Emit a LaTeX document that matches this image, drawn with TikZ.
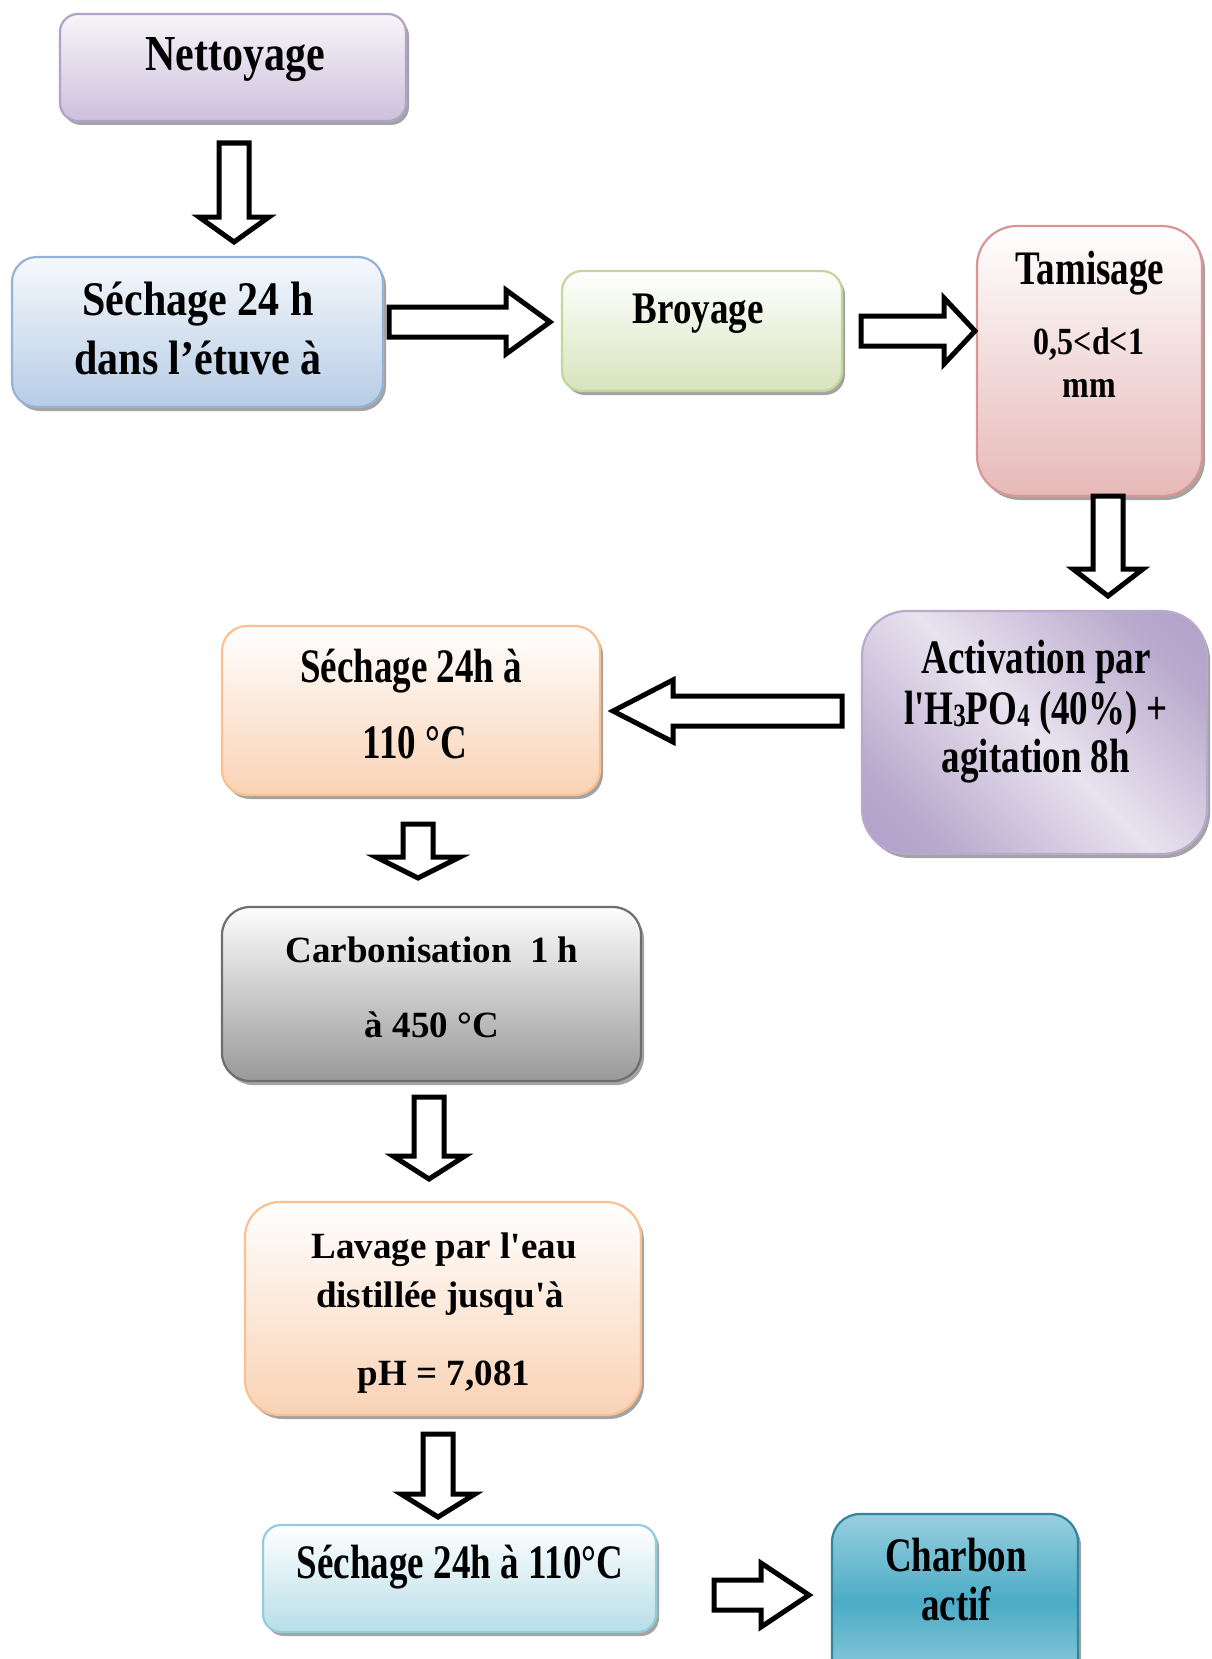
\documentclass[tikz,border=0pt]{standalone}
\usepackage{fontspec}
\setmainfont{Liberation Serif}
\usepackage{graphicx}
\usetikzlibrary{shadows}
\definecolor{netT}{HTML}{F7F5F9}\definecolor{netB}{HTML}{CDC0DC}\definecolor{netD}{HTML}{B3A2C7}
\definecolor{bluT}{HTML}{F6F9FC}\definecolor{bluB}{HTML}{B7CCE6}\definecolor{bluD}{HTML}{95B3D7}
\definecolor{grnT}{HTML}{FFFFFF}\definecolor{grnB}{HTML}{D7E4BD}\definecolor{grnD}{HTML}{C3D69B}
\definecolor{redT}{HTML}{FFFFFF}\definecolor{redB}{HTML}{E6B9B8}\definecolor{redD}{HTML}{D99694}
\definecolor{purL}{HTML}{E8E3EF}\definecolor{purD}{HTML}{B9A9CD}\definecolor{purE}{HTML}{A691C2}
\definecolor{orgT}{HTML}{FFFFFF}\definecolor{orgB}{HTML}{F9D2B4}\definecolor{orgD}{HTML}{FAC090}
\definecolor{gryT}{HTML}{FDFDFD}\definecolor{gryB}{HTML}{999999}\definecolor{gryD}{HTML}{6E6E6E}
\definecolor{cynT}{HTML}{FFFFFF}\definecolor{cynB}{HTML}{B7DEE8}\definecolor{cynD}{HTML}{93CDDD}
\definecolor{tlT}{HTML}{98CFDF}\definecolor{tlM}{HTML}{4BACC6}\definecolor{tlD}{HTML}{31859C}
\pgfdeclarehorizontalshading{purband}{100bp}{color(0bp)=(purE); color(25bp)=(purD); color(50bp)=(purL); color(75bp)=(purD); color(100bp)=(purE)}
\newcommand{\stx}[2]{\scalebox{1}[#1]{#2}}
\newcommand{\sbs}[1]{\raisebox{-1.5pt}{\fontsize{25}{27}\selectfont #1}}
\newcommand{\downblock}[6]{\draw[blockarrow] ({#1-#2},#3) -- ({#1+#2},#3) -- ({#1+#2},#5) -- ({#1+#4},#5) -- (#1,#6) -- ({#1-#4},#5) -- ({#1-#2},#5) -- cycle;}
\newcommand{\rightblock}[6]{\draw[blockarrow] (#3,{#1-#2}) -- (#3,{#1+#2}) -- (#5,{#1+#2}) -- (#5,{#1+#4}) -- (#6,#1) -- (#5,{#1-#4}) -- (#5,{#1-#2}) -- cycle;}
\tikzset{
  box/.style={draw, line width=2.2pt, drop shadow={shadow xshift=3pt, shadow yshift=-4pt, fill=black!45, opacity=0.8}},
  blockarrow/.style={draw=black, fill=white, line width=5pt, line join=miter},
  txt/.style={font=\bfseries\fontsize{37}{40}\selectfont, inner sep=0pt},
  txtL/.style={font=\bfseries\fontsize{42}{46}\selectfont, inner sep=0pt},
  txtS/.style={font=\bfseries\fontsize{32}{36}\selectfont, inner sep=0pt},
}
\begin{document}
\begin{tikzpicture}[x=1pt, y=-1pt]
\useasboundingbox (0,0) rectangle (1212,1659);
\clip (0,0) rectangle (1212,1659);
% boxes
\path[box, draw=netD, top color=netT, bottom color=netB, rounded corners=18pt] (60,14) rectangle (406,121) node[pos=.5] (net) {};
\path[box, draw=bluD, top color=bluT, bottom color=bluB, rounded corners=25pt] (12,257) rectangle (383,407) node[pos=.5] (sec1) {};
\path[box, draw=grnD, top color=grnT, bottom color=grnB, rounded corners=20pt] (562,271) rectangle (842,391) node[pos=.5] (broy) {};
\path[box, draw=redD, top color=redT, bottom color=redB, rounded corners=40pt] (977,226) rectangle (1202,496) node[pos=.5] (tam) {};
\path[box, draw=purD, shading=purband, shading angle=45, rounded corners=45pt] (862,611) rectangle (1207,854) node[pos=.5] (act) {};
\path[box, draw=orgD, top color=orgT, bottom color=orgB, rounded corners=25pt] (222,626) rectangle (600,795) node[pos=.5] (sec2) {};
\path[box, draw=gryD, top color=gryT, bottom color=gryB, rounded corners=28pt] (222,907) rectangle (641,1081) node[pos=.5] (carb) {};
\path[box, draw=orgD, top color=orgT, bottom color=orgB, rounded corners=35pt] (245,1202) rectangle (641,1415) node[pos=.5] (lav) {};
\path[box, draw=cynD, top color=cynT, bottom color=cynB, rounded corners=18pt] (263,1525) rectangle (656,1632) node[pos=.5] (sec3) {};
\path[box, draw=tlD, top color=tlT, bottom color=tlT, middle color=tlM, rounded corners=28pt] (832,1514) rectangle (1078,1690) node[pos=.5] (charb) {};
% texts
\node[txtL] (t1) at (235,60) {\stx{1.2}{Nettoyage}};
\node[txtL] (t2a) at (198,304) {\stx{1.15}{Séchage 24 h}};
\node[txtL] (t2b) at (198,358) {\stx{1.15}{dans l’étuve à}};
\node[txt] (t3) at (698,314) {\stx{1.22}{Broyage}};
\node[txt] (t4a) at (1090,273) {\stx{1.3}{Tamisage}};
\node[txtS] (t4b) at (1089,344) {\stx{1.2}{0,5<d<1}};
\node[txtS] (t4c) at (1089,388) {\stx{1.2}{mm}};
\node[txt] (t5a) at (1036,662) {\stx{1.3}{Activation par}};
\node[txt] (t5b) at (1036,713) {\stx{1.3}{l\textquotesingle H\sbs{3}PO\sbs{4} (40\%) +}};
\node[txt] (t5c) at (1036,761) {\stx{1.3}{agitation 8h}};
\node[txt] (t6a) at (411,671) {\stx{1.3}{Séchage 24h à}};
\node[txt] (t6b) at (415,743) {\stx{1.3}{110 °C}};
\node[txt] (t7a) at (432,950) {Carbonisation\ \ 1 h};
\node[txt] (t7b) at (432,1025) {à 450 °C};
\node[txt] (t8a) at (444,1250) {Lavage par l\textquotesingle eau};
\node[txt] (t8b) at (440,1299) {distillée jusqu\textquotesingle à};
\node[txt] (t8c) at (444,1377) {pH = 7,081};
\node[txt] (t9) at (460,1567) {\stx{1.3}{Séchage 24h à 110°C}};
\node[txt] (t10a) at (956,1555) {\stx{1.3}{Charbon}};
\node[txt] (t10b) at (956,1604) {\stx{1.3}{actif}};
% block arrows
\downblock{234}{15}{143}{35}{217}{242}
\rightblock{322}{15}{389}{32}{506}{550}
\rightblock{331}{15}{861}{33}{944}{975}
\downblock{1108}{15}{496}{35}{569}{596}
\draw[blockarrow] (842,696) -- (842,726) -- (673,726) -- (673,742) -- (613,711) -- (673,680) -- (673,696) -- cycle;
\downblock{418}{15}{824}{42}{857}{878}
\downblock{429}{15}{1097}{36}{1156}{1179}
\downblock{438}{15}{1434}{37}{1494}{1517}
\rightblock{1595}{15}{714}{32}{761}{809}
\end{tikzpicture}
\end{document}
